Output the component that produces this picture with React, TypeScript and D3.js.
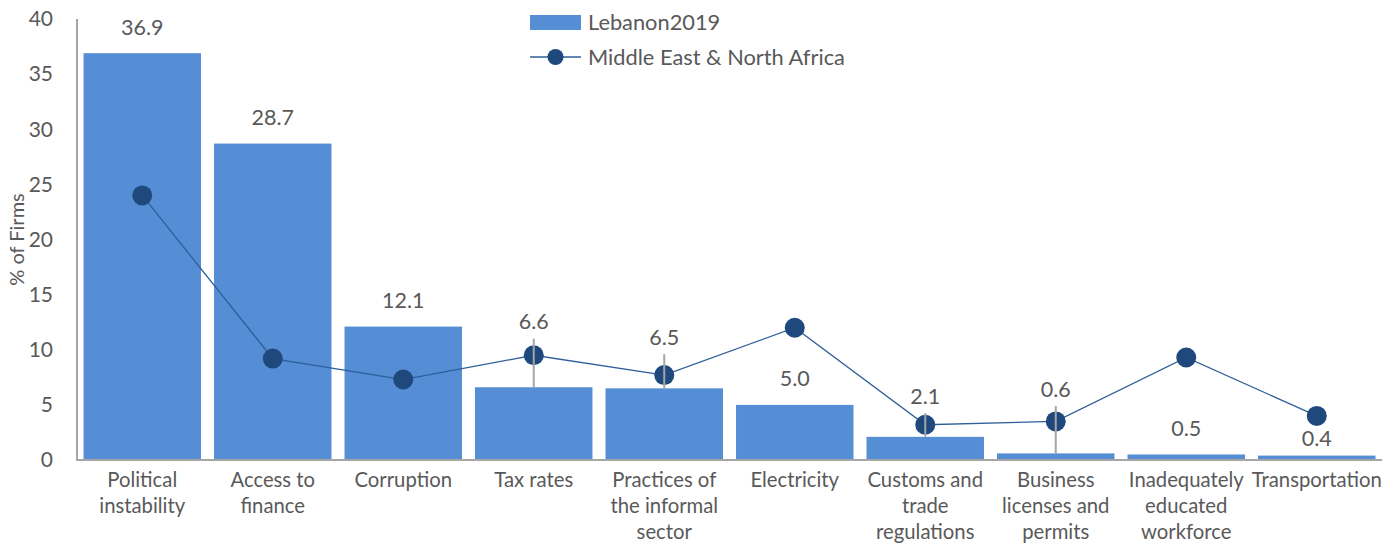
import * as d3 from 'd3';
import React, { useRef, useEffect } from 'react';

const categories = [
  "Political\ninstability",
  "Access to\nfinance",
  "Corruption",
  "Tax rates",
  "Practices of\nthe informal\nsector",
  "Electricity",
  "Customs and\ntrade\nregulations",
  "Business\nlicenses and\npermits",
  "Inadequately\neducated\nworkforce",
  "Transportation"
];
const lebanon = [36.9, 28.7, 12.1, 6.6, 6.5, 5.0, 2.1, 0.6, 0.5, 0.4];
const mena = [24.0, 9.2, 7.3, 9.5, 7.7, 12.0, 3.2, 3.5, 9.3, 4.0];
const errors = [0, 0, 0, 4.4, 3.1, 0, 2.15, 4.3, 0, 0];
const yTicks = [0, 5, 10, 15, 20, 25, 30, 35, 40];

const W = 1399, H = 543;
var margin = { top: 19, right: 17, bottom: 83, left: 77 };
const font = "Lato, 'Open Sans', sans-serif";
const textColor = "#595959";

function App() {
  const ref = useRef<SVGSVGElement>(null);

  useEffect(() => {
    const svg = d3.select(ref.current);
    svg.selectAll('*').remove();

    const w = W - margin.left - margin.right;
    const h = H - margin.top - margin.bottom;
    const g = svg.append("g").attr("transform", `translate(${margin.left},${margin.top})`);

    const x = d3.scaleBand().domain(categories).range([0, w]).paddingInner(0.1).paddingOuter(0.05);
    const y = d3.scaleLinear().domain([0, 40]).range([h, 0]);
    const cx = (c: string) => (x(c) as number) + x.bandwidth() / 2;

    // y tick labels
    g.append("g").selectAll("text")
      .data(yTicks).enter().append("text")
      .attr("x", -24).attr("y", d => y(d)).attr("dy", "0.35em")
      .attr("text-anchor", "end")
      .attr("font-family", font).attr("font-size", 21).attr("fill", textColor)
      .text(d => d);

    // y title
    g.append("text")
      .attr("transform", `translate(${-60},${h / 2}) rotate(-90)`)
      .attr("text-anchor", "middle").attr("dy", "0.35em")
      .attr("font-family", font).attr("font-size", 20).attr("fill", textColor)
      .text("% of Firms");

    // bars
    g.append("g").selectAll("rect")
      .data(lebanon).enter().append("rect")
      .attr("x", (d, i) => x(categories[i]) as number)
      .attr("y", d => y(d))
      .attr("width", x.bandwidth())
      .attr("height", d => h - y(d))
      .attr("fill", "#558ed5");

    // axes lines
    g.append("line").attr("x1", 0).attr("x2", w).attr("y1", h).attr("y2", h)
      .attr("stroke", "#a6a6a6").attr("stroke-width", 2);
    g.append("line").attr("x1", 0).attr("x2", 0).attr("y1", 0).attr("y2", h + 1)
      .attr("stroke", "#a6a6a6").attr("stroke-width", 2);

    // MENA line
    const line = d3.line<number>().x((d, i) => cx(categories[i])).y(d => y(d));
    g.append("path").datum(mena)
      .attr("d", line).attr("fill", "none")
      .attr("stroke", "#2e5f9a").attr("stroke-width", 1.3);
    g.append("g").selectAll("circle")
      .data(mena).enter().append("circle")
      .attr("cx", (d, i) => cx(categories[i]))
      .attr("cy", d => y(d))
      .attr("r", 10)
      .attr("fill", "#1f497d");

    // error bars
    g.append("g").selectAll("line")
      .data(errors.map((e, i) => ({ e, i })).filter(d => d.e > 0)).enter().append("line")
      .attr("x1", d => cx(categories[d.i])).attr("x2", d => cx(categories[d.i]))
      .attr("y1", d => y(lebanon[d.i])).attr("y2", d => y(lebanon[d.i] + d.e))
      .attr("stroke", "#a5a5a5").attr("stroke-width", 2);

    // value labels (the last one sits under the marker, like the original)
    g.append("g").selectAll("text")
      .data(lebanon).enter().append("text")
      .attr("x", (d, i) => cx(categories[i]))
      .attr("y", (d, i) => errors[i] > 0 ? y(d + errors[i]) - 17
        : Math.abs(y(d) - 26 - y(mena[i])) < 20 ? y(d) - 17 : y(d) - 26)
      .attr("dy", "0.35em")
      .attr("text-anchor", "middle")
      .attr("font-family", font).attr("font-size", 21.5).attr("fill", textColor)
      .text(d => d.toFixed(1));

    // category labels
    const cat = g.append("g").selectAll("text")
      .data(categories).enter().append("text")
      .attr("text-anchor", "middle")
      .attr("font-family", font).attr("font-size", 20.3).attr("fill", textColor);
    cat.selectAll("tspan")
      .data(d => d.split("\n").map(t => ({ t, c: d })))
      .enter().append("tspan")
      .attr("x", d => cx(d.c))
      .attr("y", (d, i) => h + 20 + i * 26)
      .attr("dy", "0.35em")
      .text(d => d.t);

    // legend
    const lg = svg.append("g");
    lg.append("rect").attr("x", 530).attr("y", 15).attr("width", 51).attr("height", 15).attr("fill", "#558ed5");
    lg.append("text").attr("x", 588).attr("y", 22).attr("dy", "0.35em")
      .attr("font-family", font).attr("font-size", 21.8).attr("fill", textColor)
      .text("Lebanon2019");
    lg.append("line").attr("x1", 530).attr("x2", 581).attr("y1", 57).attr("y2", 57)
      .attr("stroke", "#2e5f9a").attr("stroke-width", 1.3);
    lg.append("circle").attr("cx", 555.5).attr("cy", 57).attr("r", 8).attr("fill", "#1f497d");
    lg.append("text").attr("x", 588).attr("y", 57).attr("dy", "0.35em")
      .attr("font-family", font).attr("font-size", 21.8).attr("fill", textColor)
      .text("Middle East & North Africa");
  });

  return (
    <svg ref={ref} width={W} height={H} style={{ position: 'absolute', left: 0, top: 0, background: '#fff' }}>
    </svg>
  );
}

export default App;
